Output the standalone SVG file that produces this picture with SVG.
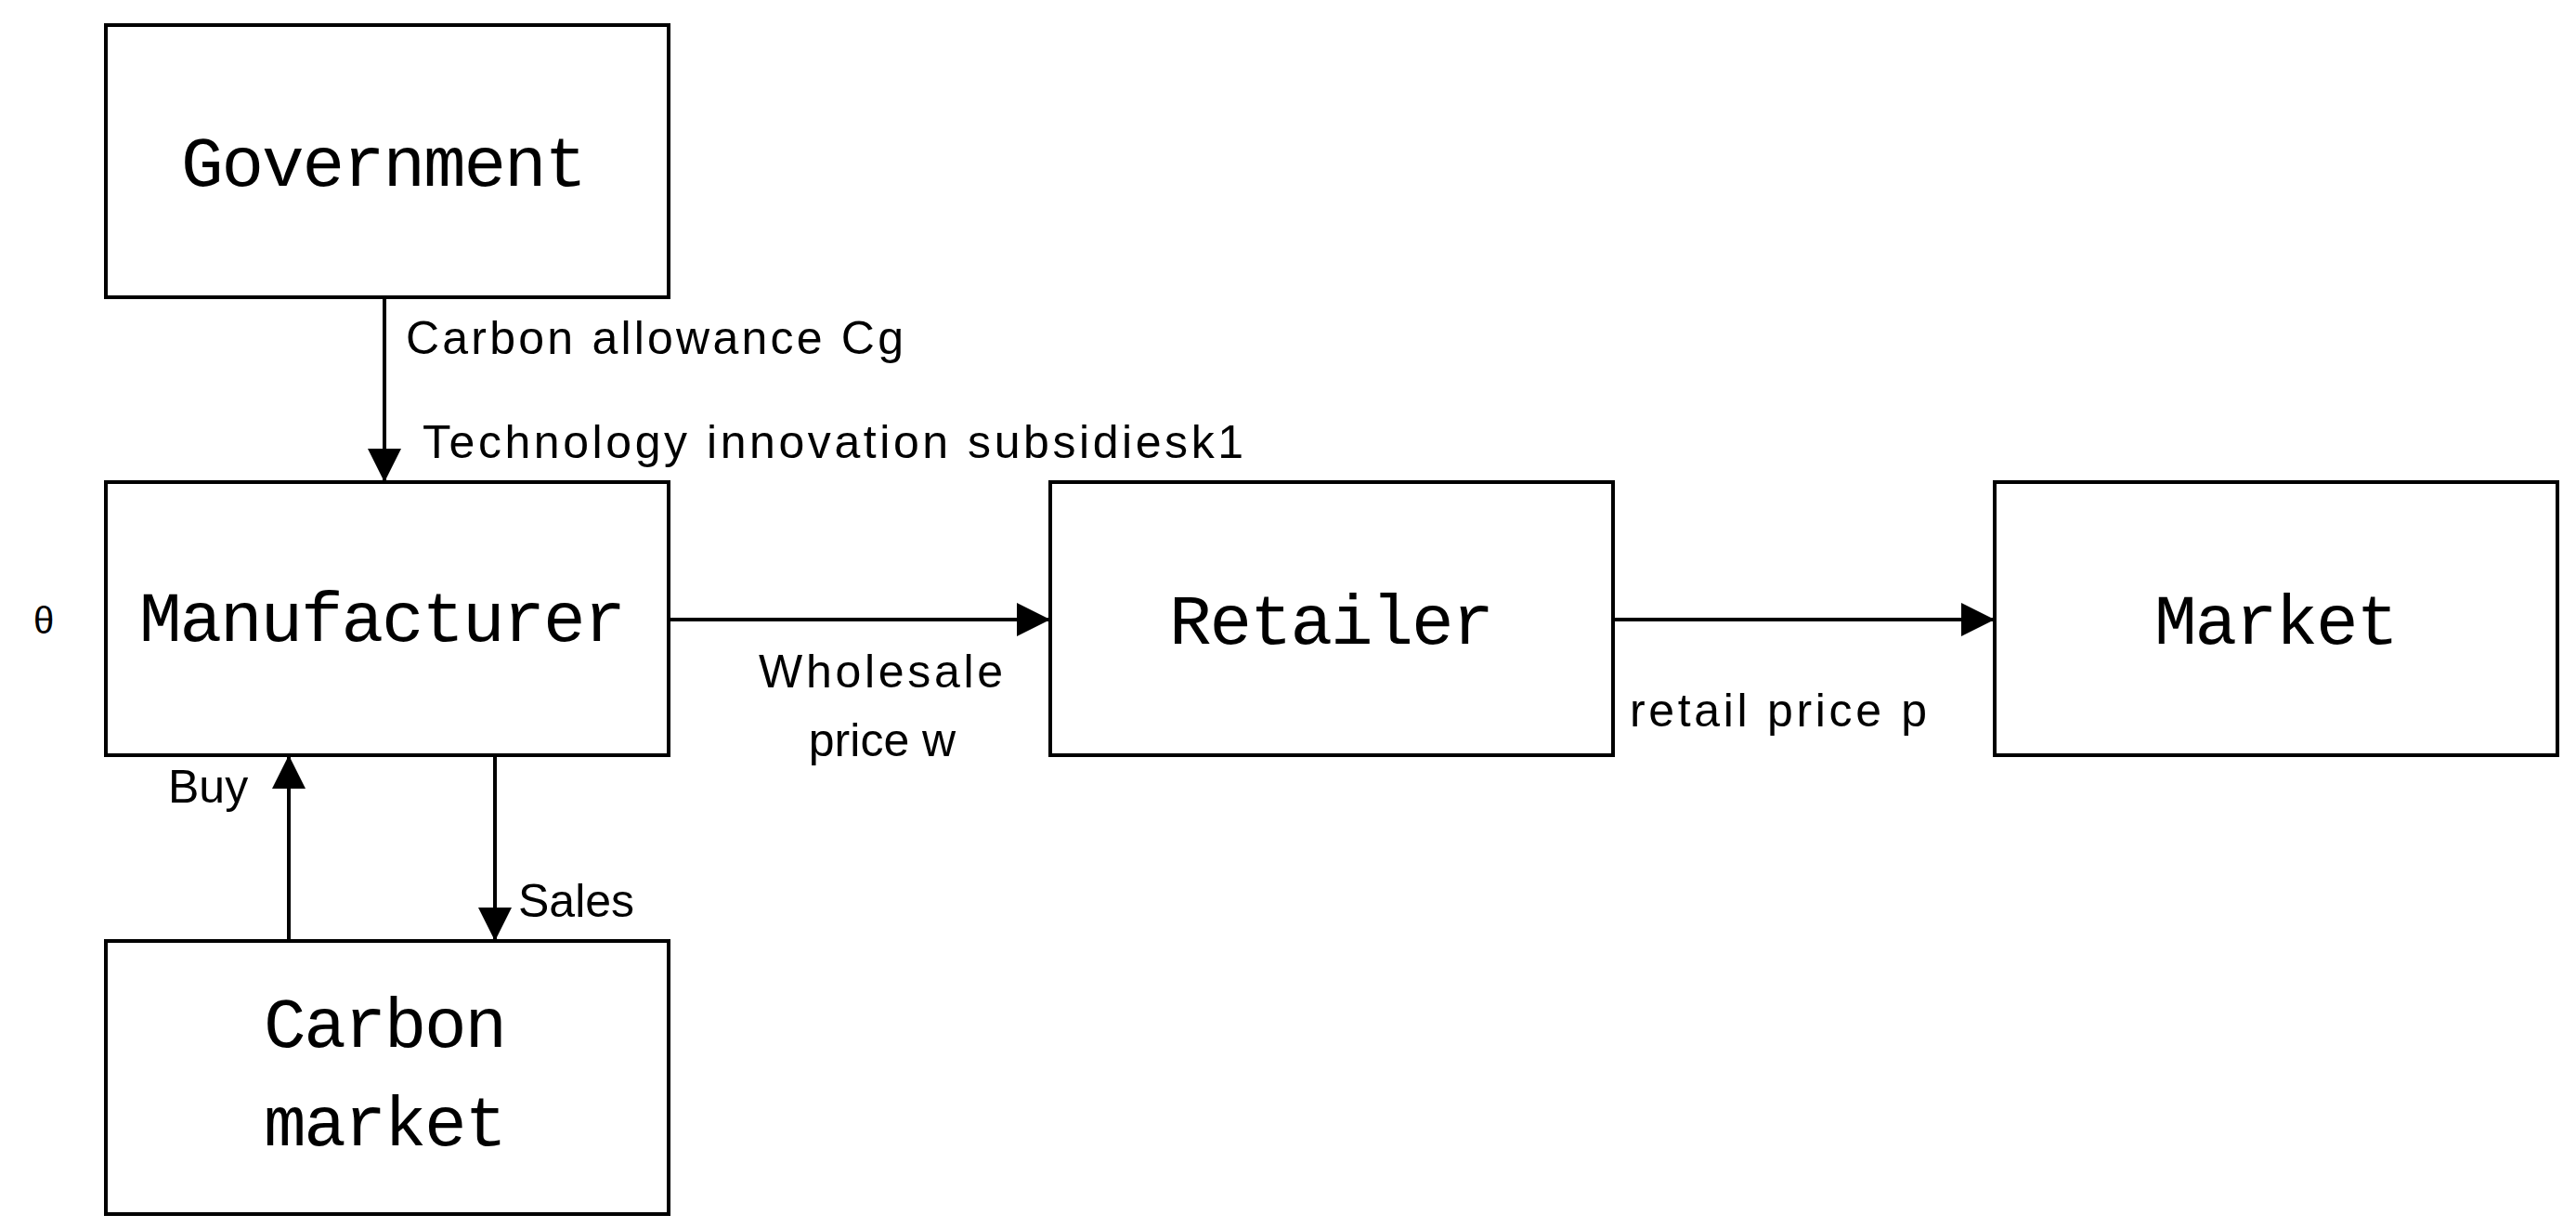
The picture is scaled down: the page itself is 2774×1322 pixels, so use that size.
<svg xmlns="http://www.w3.org/2000/svg" width="2774" height="1322" viewBox="0 0 2774 1322">
<style>
.box{fill:#fff;stroke:#000;stroke-width:4}
.bl{font-family:"Liberation Mono",monospace;font-size:76px;fill:#000}
.lb{font-family:"Liberation Sans",sans-serif;font-size:50px;fill:#000}
.ln{stroke:#000;stroke-width:4;fill:none;marker-end:url(#ah)}
</style>
<defs><marker id="ah" markerUnits="userSpaceOnUse" markerWidth="40" markerHeight="40" refX="36" refY="18" orient="auto" viewBox="0 0 40 40"><path d="M0,0 L36,18 L0,36 Z" fill="#000"/></marker></defs>
<rect width="2774" height="1322" fill="#fff"/>
<g id="government"><rect class="box" x="114" y="27" width="606" height="293"/><text class="bl" x="195" y="200" textLength="437">Government</text></g>
<g id="manufacturer"><rect class="box" x="114" y="519" width="606" height="294"/><text class="bl" x="150" y="690" textLength="524">Manufacturer</text></g>
<g id="carbon-market"><rect class="box" x="114" y="1013" width="606" height="294"/><text class="bl" x="284" y="1127" textLength="262">Carbon</text><text class="bl" x="284" y="1233" textLength="262">market</text></g>
<g id="retailer"><rect class="box" x="1131" y="519" width="606" height="294"/><text class="bl" x="1259" y="693" textLength="350">Retailer</text></g>
<g id="market"><rect class="box" x="2148" y="519" width="606" height="294"/><text class="bl" x="2320" y="693" textLength="263">Market</text></g>
<g id="connectors">
<line class="ln" x1="414" y1="320" x2="414" y2="519"/>
<line class="ln" x1="720" y1="667" x2="1131" y2="667"/>
<line class="ln" x1="1737" y1="667" x2="2148" y2="667"/>
<line class="ln" x1="533" y1="813" x2="533" y2="1013"/>
<line class="ln" x1="311" y1="1013" x2="311" y2="813"/>
</g>
<g id="labels">
<text class="lb" x="437" y="381" textLength="536">Carbon allowance Cg</text>
<text class="lb" x="455" y="493" textLength="884">Technology innovation subsidiesk1</text>
<text class="lb" x="817" y="740" textLength="263">Wholesale</text>
<text class="lb" x="950" y="814" text-anchor="middle">price w</text>
<text class="lb" x="1755" y="782" textLength="320">retail price p</text>
<text class="lb" x="181" y="864">Buy</text>
<text class="lb" x="558" y="987">Sales</text>
<text class="lb" x="36" y="682" style="font-size:40px">θ</text>
</g>
</svg>
